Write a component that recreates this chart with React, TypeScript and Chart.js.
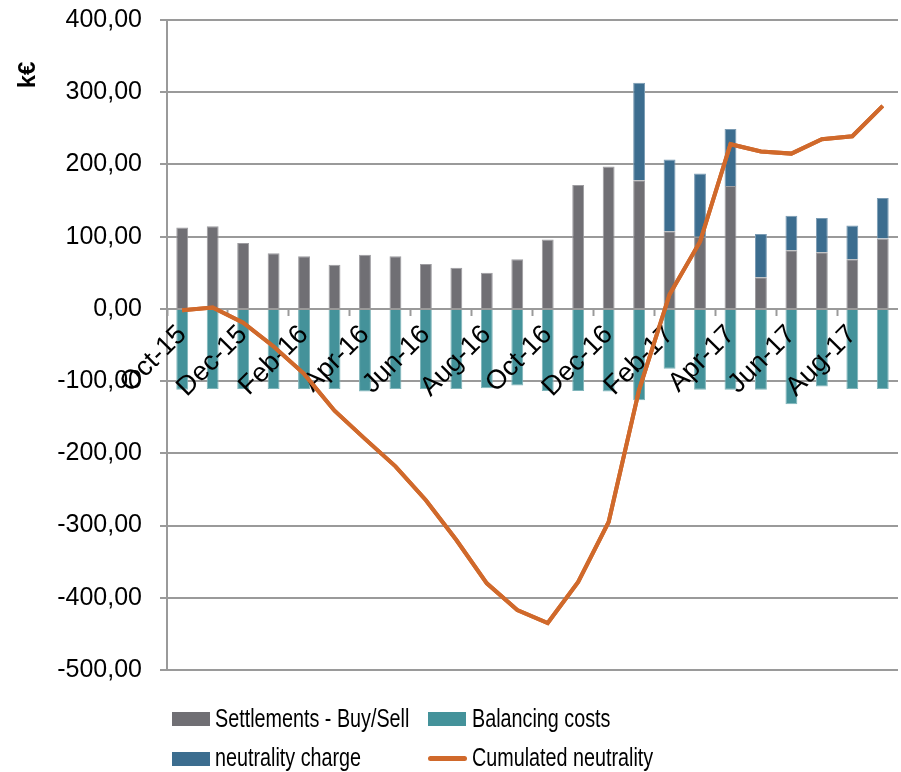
import React, { useEffect, useRef } from 'react';
import { Chart, registerables } from 'chart.js';

Chart.register(...registerables);

// ---- data ----
const months = [
  'Oct-15', 'Nov-15', 'Dec-15', 'Jan-16', 'Feb-16', 'Mar-16', 'Apr-16', 'May-16',
  'Jun-16', 'Jul-16', 'Aug-16', 'Sep-16', 'Oct-16', 'Nov-16', 'Dec-16', 'Jan-17',
  'Feb-17', 'Mar-17', 'Apr-17', 'May-17', 'Jun-17', 'Jul-17', 'Aug-17', 'Sep-17',
];
const settlements = [
  112.6, 114.5, 91.4, 77.1, 73, 61, 74.8, 73, 62.3, 56.8, 49.9, 68.8,
  96, 171.7, 197, 178, 107.6, 100, 170, 43.8, 81.3, 78.5, 68.8, 97.4,
];
const balancingCosts = [
  -112, -111, -111, -111, -111, -111, -114.5, -111, -111, -111, -110, -106,
  -113.6, -113.6, -114.5, -126.5, -83, -112, -112, -112, -132, -107.6, -111, -111,
];
const neutralityCharge = [
  null, null, null, null, null, null, null, null, null, null, null, null,
  null, null, null, 135, 99.4, 87.5, 79, 60, 47.5, 47.5, 46.6, 56,
];
const cumulatedNeutrality = [
  -2, 2, -19, -52, -90, -141, -180, -218, -265, -320, -380, -417,
  -435, -378, -295, -112, 20, 93, 228, 218, 215, 235, 239, 281,
];
const yMin = -500;
const yMax = 400;
const yStep = 100;
const yTitle = 'k€';

// ---- styles ----
const GRAY = '#706f74';
const TEAL = '#44929a';
const BLUE = '#3c6d8f';
const ORANGE = '#d0692b';
const GRID = '#9a9a9a';
const FONT = "'Liberation Sans', Arial, sans-serif";

const overlayPlugin = {
  id: 'overlay',
  afterDraw(chart: any) {
    // redraw the cumulative line on top of axis labels
    const meta = chart.getDatasetMeta(3);
    if (meta && meta.controller) {
      const ctx = chart.ctx;
      ctx.save();
      meta.controller.draw();
      ctx.restore();
    }
    const ctx = chart.ctx;
    const area = chart.chartArea;
    ctx.save();
    ctx.translate(area.left - 139, area.top + 55);
    ctx.rotate(-Math.PI / 2);
    ctx.font = `bold 24px ${FONT}`;
    ctx.fillStyle = '#000';
    ctx.textAlign = 'center';
    ctx.textBaseline = 'middle';
    ctx.fillText(yTitle, 0, 0);
    ctx.restore();
  },
};

function LegendBox({ color, left, top }: { color: string; left: number; top: number }) {
  return (
    <div style={{ position: 'absolute', left, top, width: 38, height: 14, background: color }} />
  );
}

function LegendText({ text, left, top }: { text: string; left: number; top: number }) {
  return (
    <div
      style={{
        position: 'absolute',
        left,
        top,
        fontFamily: FONT,
        fontSize: 26,
        lineHeight: '26px',
        color: '#000',
        whiteSpace: 'nowrap',
        transform: 'scaleX(0.76)',
        transformOrigin: 'left top',
      }}
    >
      {text}
    </div>
  );
}

export default function App() {
  const canvasRef = useRef<HTMLCanvasElement | null>(null);

  useEffect(() => {
    const canvas = canvasRef.current;
    if (!canvas) return;
    const chart = new Chart(canvas, {
      type: 'bar',
      data: {
        labels: months,
        datasets: [
          {
            label: 'Settlements - Buy/Sell',
            data: settlements,
            backgroundColor: GRAY,
            borderColor: '#9d9ca0',
            borderWidth: 1,
            barPercentage: 0.39,
            categoryPercentage: 1,
            order: 1,
          },
          {
            label: 'Balancing costs',
            data: balancingCosts,
            backgroundColor: TEAL,
            borderColor: '#7fb5ba',
            borderWidth: 1,
            barPercentage: 0.39,
            categoryPercentage: 1,
            order: 1,
          },
          {
            label: 'neutrality charge',
            data: neutralityCharge as any,
            backgroundColor: BLUE,
            borderColor: '#7a9bb3',
            borderWidth: 1,
            barPercentage: 0.39,
            categoryPercentage: 1,
            order: 1,
          },
          {
            type: 'line',
            label: 'Cumulated neutrality',
            data: cumulatedNeutrality,
            borderColor: ORANGE,
            backgroundColor: ORANGE,
            borderWidth: 4,
            pointRadius: 0,
            tension: 0,
            stack: 'cumulated',
            order: 0,
          } as any,
        ],
      },
      options: {
        animation: false,
        responsive: false,
        maintainAspectRatio: false,
        layout: { padding: { left: 0, right: 3, top: 20, bottom: 102 } },
        plugins: {
          legend: { display: false },
          tooltip: { enabled: false },
        },
        scales: {
          x: {
            stacked: true,
            position: { y: 0 } as any,
            offset: true,
            grid: {
              display: true,
              drawOnChartArea: false,
              drawTicks: true,
              tickLength: 7,
              offset: true,
              tickWidth: 2,
              tickColor: (ctx: any) => (ctx.index % 2 === 0 ? GRID : 'rgba(0,0,0,0)'),
            },
            border: { display: false },
            ticks: {
              autoSkip: false,
              minRotation: 45,
              maxRotation: 45,
              padding: 3,
              color: '#000',
              font: { family: FONT, size: 27 },
              z: 1,
              callback: (_v: any, i: number) => (i % 2 === 0 ? months[i] : ''),
            },
            afterFit: (s: any) => {
              s.paddingLeft = 0;
              s.paddingRight = 0;
              s.paddingTop = 0;
              s.paddingBottom = 0;
            },
          },
          y: {
            stacked: true,
            min: yMin,
            max: yMax,
            ticks: {
              stepSize: yStep,
              padding: 18,
              color: '#000',
              font: { family: FONT, size: 25 },
              callback: (v: any) => Number(v).toFixed(2).replace('.', ','),
            },
            grid: { color: GRID, lineWidth: 2, tickLength: 7 },
            border: { color: GRID, width: 2 },
            afterFit: (s: any) => {
              s.width = 167;
              s.paddingTop = 0;
              s.paddingBottom = 0;
            },
          },
        },
      } as any,
      plugins: [overlayPlugin],
    });
    return () => chart.destroy();
  }, []);

  return (
    <div style={{ position: 'fixed', left: 0, top: 0, width: 901, height: 772, background: '#fff' }}>
      <canvas
        ref={canvasRef}
        width={901}
        height={772}
        style={{ position: 'absolute', left: 0, top: 0, width: 901, height: 772 }}
      />
      <LegendBox color={GRAY} left={172} top={712} />
      <LegendText text="Settlements - Buy/Sell" left={215} top={705} />
      <LegendBox color={TEAL} left={428} top={712} />
      <LegendText text="Balancing costs" left={472} top={705} />
      <LegendBox color={BLUE} left={172} top={752} />
      <LegendText text="neutrality charge" left={215} top={744} />
      <div
        style={{
          position: 'absolute',
          left: 428,
          top: 756,
          width: 39,
          height: 5,
          borderRadius: 3,
          background: ORANGE,
        }}
      />
      <LegendText text="Cumulated neutrality" left={472} top={744} />
    </div>
  );
}
